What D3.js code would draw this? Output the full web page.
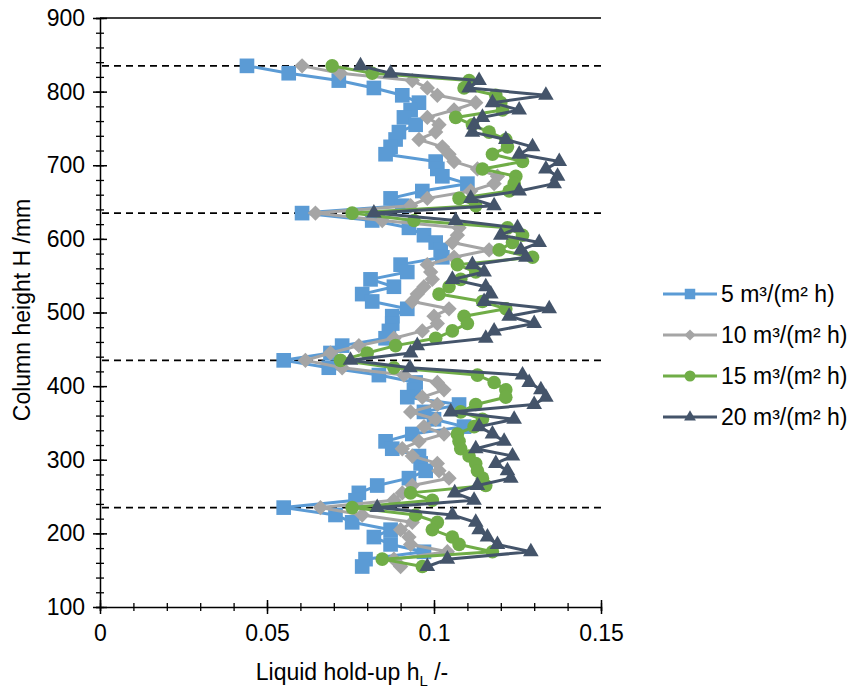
<!DOCTYPE html>
<html>
<head>
<meta charset="utf-8">
<script src="https://cdn.jsdelivr.net/npm/d3@7"></script>
<style>
  html, body { margin: 0; padding: 0; background: #fff; }
  svg text { font-family: "Liberation Sans", Arial, sans-serif; fill: #000; }
</style>
</head>
<body>
<svg id="chart" width="857" height="688"></svg>
<script>
// column heights (mm), top to bottom
const heights = [835, 825, 815, 805, 795, 785, 775, 765, 755, 745, 735, 725, 715, 705, 695, 685, 675, 665, 655, 645, 635,
  625, 615, 605, 595, 585, 575, 565, 555, 545, 535, 525, 515, 505, 495, 485, 475, 465, 455, 445, 435,
  425, 415, 405, 395, 385, 375, 365, 355, 345, 335, 325, 315, 305, 295, 285, 275, 265, 255, 245, 235,
  225, 215, 205, 195, 185, 175, 165, 155];

// liquid hold-up per liquid load
const hold5 = [0.044, 0.0565, 0.0715, 0.082, 0.0905, 0.0955, 0.093, 0.091, 0.0945, 0.0895, 0.0885, 0.087, 0.0855, 0.1005, 0.101, 0.1025, 0.110, 0.0965, 0.087, 0.0905, 0.0605,
  0.0815, 0.0925, 0.097, 0.1005, 0.102, 0.1025, 0.090, 0.092, 0.081, 0.088, 0.0785, 0.0815, 0.092, 0.0875, 0.0875, 0.0865, 0.0855, 0.0725, 0.069, 0.055,
  0.0685, 0.0835, 0.0945, 0.094, 0.092, 0.1075, 0.097, 0.100, 0.109, 0.0935, 0.0855, 0.0875, 0.0955, 0.096, 0.0975, 0.0925, 0.083, 0.0775, 0.0765, 0.055,
  0.0705, 0.0755, 0.087, 0.082, 0.087, 0.097, 0.0795, 0.0785];
const hold10 = [0.0605, 0.072, 0.0935, 0.098, 0.101, 0.1125, 0.106, 0.098, 0.1015, 0.1005, 0.0955, 0.1025, 0.1045, 0.106, 0.113, 0.119, 0.118, 0.111, 0.098, 0.093, 0.0645,
  0.0845, 0.1075, 0.107, 0.1055, 0.1165, 0.106, 0.098, 0.099, 0.0995, 0.097, 0.095, 0.0935, 0.1045, 0.100, 0.101, 0.0965, 0.088, 0.0775, 0.069, 0.0615,
  0.0725, 0.091, 0.101, 0.103, 0.0965, 0.101, 0.093, 0.1005, 0.097, 0.103, 0.0955, 0.0905, 0.0935, 0.101, 0.1015, 0.1045, 0.0935, 0.0905, 0.088, 0.066,
  0.0785, 0.0935, 0.090, 0.0925, 0.093, 0.104, 0.088, 0.090];
const hold15 = [0.0695, 0.0815, 0.1105, 0.109, 0.1185, 0.120, 0.1205, 0.1065, 0.1115, 0.1165, 0.1215, 0.122, 0.1175, 0.1265, 0.1145, 0.1245, 0.124, 0.1225, 0.1075, 0.1125, 0.0755,
  0.094, 0.122, 0.1265, 0.1235, 0.1195, 0.1295, 0.107, 0.1125, 0.108, 0.1045, 0.1015, 0.1145, 0.1215, 0.109, 0.110, 0.1055, 0.1005, 0.0885, 0.080, 0.072,
  0.088, 0.113, 0.118, 0.1215, 0.1215, 0.1125, 0.108, 0.1145, 0.112, 0.107, 0.1075, 0.108, 0.1105, 0.1125, 0.113, 0.1145, 0.1155, 0.093, 0.0995, 0.0755,
  0.0945, 0.101, 0.0995, 0.1055, 0.1075, 0.1175, 0.0845, 0.0965];
const hold20 = [0.078, 0.087, 0.1135, 0.1105, 0.1335, 0.1175, 0.1255, 0.1145, 0.112, 0.1115, 0.1215, 0.1295, 0.1255, 0.1375, 0.1335, 0.137, 0.136, 0.1255, 0.111, 0.118, 0.082,
  0.1065, 0.125, 0.120, 0.1315, 0.126, 0.1275, 0.1115, 0.115, 0.1055, 0.1155, 0.117, 0.115, 0.1345, 0.1225, 0.130, 0.118, 0.1155, 0.095, 0.093, 0.075,
  0.0928, 0.1265, 0.1285, 0.132, 0.1335, 0.130, 0.105, 0.124, 0.1135, 0.1175, 0.121, 0.1125, 0.1235, 0.1185, 0.122, 0.123, 0.113, 0.1062, 0.112, 0.083,
  0.1055, 0.1125, 0.1135, 0.116, 0.119, 0.129, 0.104, 0.098];

const seriesNames = ['5 m³/(m² h)', '10 m³/(m² h)', '15 m³/(m² h)', '20 m³/(m² h)'];
const sectionLines = [835, 635, 435, 235];
const xTicks = [0, 0.05, 0.1, 0.15];
const yTicks = [100, 200, 300, 400, 500, 600, 700, 800, 900];

const series = [
  { name: seriesNames[0], values: hold5,  color: '#5B9BD5', shape: 'square' },
  { name: seriesNames[1], values: hold10, color: '#A5A5A5', shape: 'diamond' },
  { name: seriesNames[2], values: hold15, color: '#70AD47', shape: 'circle' },
  { name: seriesNames[3], values: hold20, color: '#44546A', shape: 'triangle' },
];

const svg = d3.select('#chart');
const L = 100, R = 601, T = 18, B = 607;
const FONT = '"Liberation Sans", Arial, sans-serif';

const x = d3.scaleLinear().domain([0, 0.15]).range([L, R]);
const y = d3.scaleLinear().domain([100, 900]).range([B, T]);

// marker paths
const symFor = (shape, big) => {
  const s = {
    square:   [d3.symbolSquare,    big ? 215 : 110],
    diamond:  [d3.symbolDiamond2,  big ? 150 : 80],
    circle:   [d3.symbolCircle,    big ? 145 : 95],
    triangle: [d3.symbolTriangle2, big ? 175 : 100],
  }[shape];
  return d3.symbol().type(s[0]).size(s[1])();
};

// top border
svg.append('line').attr('x1', L).attr('x2', R).attr('y1', T).attr('y2', T)
  .attr('stroke', '#000').attr('stroke-width', 1.5);

// section boundaries
svg.append('g').selectAll('line').data(sectionLines).join('line')
  .attr('x1', L + 2).attr('x2', R).attr('y1', d => y(d)).attr('y2', d => y(d))
  .attr('stroke', '#000').attr('stroke-width', 1.8).attr('stroke-dasharray', '7,5');

// series
const line = d3.line().x(d => x(d[1])).y(d => y(d[0]));
series.forEach(s => {
  const pts = heights.map((h, i) => [h, s.values[i]]);
  const g = svg.append('g');
  g.append('path').datum(pts).attr('d', line)
    .attr('fill', 'none').attr('stroke', s.color).attr('stroke-width', 3)
    .attr('stroke-linejoin', 'round');
  g.selectAll('path.m').data(pts).join('path').attr('class', 'm')
    .attr('d', symFor(s.shape, true))
    .attr('transform', d => `translate(${x(d[1])},${y(d[0])})`)
    .attr('fill', s.color);
});

// axes
const xAxis = svg.append('g').attr('transform', `translate(0,${B})`);
xAxis.call(d3.axisBottom(x).tickValues(d3.range(0, 0.1501, 0.01)).tickSize(4).tickFormat(''))
  .call(g => g.selectAll('.tick line').attr('y1', -4).attr('stroke-width', 1.3));
xAxis.append('g').call(d3.axisBottom(x).tickValues(xTicks).tickSize(7).tickFormat(d3.format('')))
  .call(g => g.select('.domain').remove())
  .call(g => g.selectAll('.tick line').attr('y1', -7).attr('stroke-width', 1.5))
  .call(g => g.selectAll('.tick text').attr('y', 18).attr('font-size', 23).attr('fill', '#000')
    .attr('font-family', FONT));
xAxis.select('.domain').attr('stroke-width', 1.5);

const yAxis = svg.append('g').attr('transform', `translate(${L},0)`);
yAxis.call(d3.axisLeft(y).tickValues(d3.range(100, 901, 20)).tickSize(4).tickFormat(''))
  .call(g => g.selectAll('.tick line').attr('x1', 4).attr('stroke-width', 1.3));
yAxis.append('g').call(d3.axisLeft(y).tickValues(yTicks).tickSize(7).tickFormat(d3.format('')))
  .call(g => g.select('.domain').remove())
  .call(g => g.selectAll('.tick line').attr('x1', 7).attr('stroke-width', 1.5))
  .call(g => g.selectAll('.tick text').attr('x', -15).attr('font-size', 23).attr('fill', '#000')
    .attr('font-family', FONT));
yAxis.select('.domain').attr('stroke-width', 1.5);

// axis titles
const xt = svg.append('text').attr('x', 352).attr('y', 680)
  .attr('text-anchor', 'middle').attr('font-size', 23);
xt.append('tspan').text('Liquid hold-up h');
xt.append('tspan').text('L').attr('font-size', 15).attr('dy', 6);
xt.append('tspan').text(' /-').attr('dy', -6);

svg.append('text').attr('transform', 'translate(30,310) rotate(-90)')
  .attr('text-anchor', 'middle').attr('font-size', 23).text('Column height H /mm');

// legend
const leg = svg.append('g').selectAll('g').data(series).join('g')
  .attr('transform', (d, i) => `translate(663,${294 + i * 41})`);
leg.append('line').attr('x1', 0).attr('x2', 54).attr('stroke', d => d.color).attr('stroke-width', 3);
leg.append('path').attr('d', d => symFor(d.shape, false)).attr('transform', 'translate(27,0)')
  .attr('fill', d => d.color);
leg.append('text').attr('x', 58).attr('y', 8).attr('font-size', 23).text(d => d.name);
</script>
</body>
</html>
